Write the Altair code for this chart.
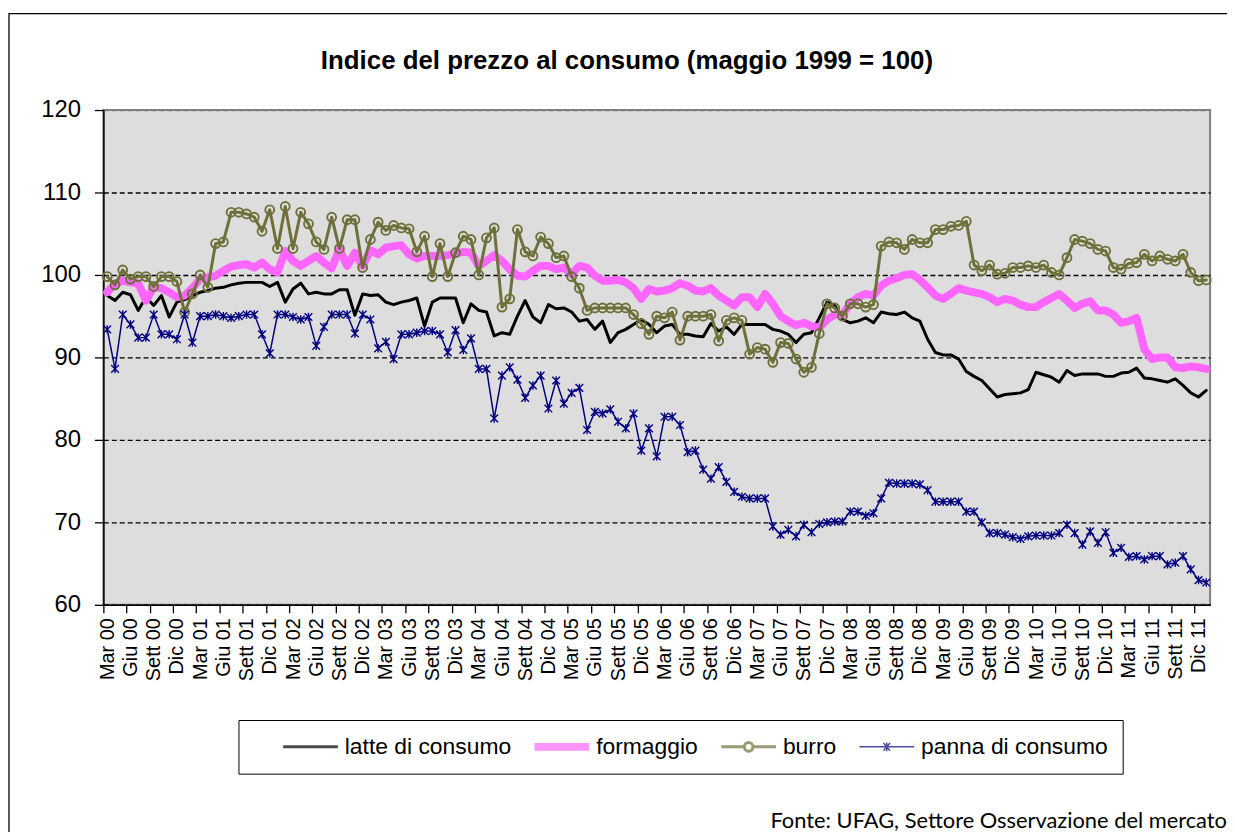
import altair as alt
import pandas as pd

# ---------------- data ----------------
tick_labels = [
    "Mar 00", "Giu 00", "Sett 00", "Dic 00",
    "Mar 01", "Giu 01", "Sett 01", "Dic 01",
    "Mar 02", "Giu 02", "Sett 02", "Dic 02",
    "Mar 03", "Giu 03", "Sett 03", "Dic 03",
    "Mar 04", "Giu 04", "Sett 04", "Dic 04",
    "Mar 05", "Giu 05", "Sett 05", "Dic 05",
    "Mar 06", "Giu 06", "Sett 06", "Dic 06",
    "Mar 07", "Giu 07", "Sett 07", "Dic 07",
    "Mar 08", "Giu 08", "Sett 08", "Dic 08",
    "Mar 09", "Giu 09", "Sett 09", "Dic 09",
    "Mar 10", "Giu 10", "Sett 10", "Dic 10",
    "Mar 11", "Giu 11", "Sett 11", "Dic 11",
]

series_names = ["latte di consumo", "formaggio", "burro", "panna di consumo"]
series_colors = ["#000000", "#FF66FF", "#6F6F3A", "#000080"]
series_widths = [3, 8, 3, 1.5]

latte = [
    97.5, 96.9, 97.9, 97.6, 95.7, 97.3, 96.3, 97.5, 94.9, 96.7, 97.0, 97.5,
    97.9, 98.1, 98.4, 98.5, 98.8, 99.0, 99.1, 99.1, 99.1, 98.6, 99.1, 96.7,
    98.3, 99.0, 97.7, 97.9, 97.7, 97.7, 98.2, 98.2, 95.1, 97.7, 97.5, 97.6,
    96.7, 96.4, 96.7, 96.9, 97.2, 93.8, 96.7, 97.2, 97.2, 97.2, 94.2, 96.5,
    95.7, 95.5, 92.6, 93.0, 92.8, 95.0, 96.9, 94.9, 94.2, 96.4, 95.9, 96.0,
    95.5, 94.4, 94.6, 93.4, 94.4, 91.8, 93.0, 93.4, 94.0, 94.6, 94.0, 93.0,
    93.8, 94.0, 92.8, 92.8, 92.6, 92.5, 94.1, 93.2, 93.7, 92.8, 94.0, 94.0,
    94.0, 94.0, 93.4, 93.2, 92.8, 91.8, 92.8, 93.0, 94.8, 96.7, 96.3, 94.6,
    94.2, 94.4, 94.8, 94.2, 95.5, 95.3, 95.2, 95.5, 94.8, 94.4, 92.2, 90.6,
    90.3, 90.3, 89.8, 88.3, 87.7, 87.2, 86.2, 85.2, 85.5, 85.6, 85.7, 86.1,
    88.2, 87.9, 87.6, 87.0, 88.4, 87.8, 88.0, 88.0, 88.0, 87.7, 87.7, 88.1,
    88.2, 88.7, 87.5, 87.4, 87.2, 87.0, 87.4, 86.6, 85.7, 85.2, 86.0,
]

formaggio = [
    97.9, 98.9, 99.3, 99.1, 99.0, 96.9, 98.5, 98.4, 97.9, 97.3, 97.5, 98.4,
    99.5, 99.7, 99.9, 100.5, 101.0, 101.2, 101.3, 100.9, 101.5, 100.7, 100.3, 102.9,
    101.7, 101.1, 101.7, 102.3, 101.5, 100.8, 103.1, 101.1, 102.7, 101.1, 103.0, 102.5,
    103.3, 103.5, 103.6, 102.5, 102.0, 102.3, 102.3, 102.3, 102.4, 102.6, 102.8, 102.7,
    101.1, 101.7, 102.4, 101.7, 100.7, 99.9, 99.8, 100.5, 101.1, 101.1, 100.7, 100.9,
    100.1, 101.1, 100.9, 99.9, 99.3, 99.3, 99.4, 99.1, 98.4, 97.1, 98.3, 98.0,
    98.1, 98.4, 99.0, 98.7, 98.1, 98.0, 98.4, 97.5, 96.9, 96.3, 97.3, 97.3,
    96.1, 97.7, 96.5, 95.0, 94.4, 93.9, 94.2, 93.8, 93.6, 94.6, 95.2, 95.2,
    96.5, 97.3, 97.7, 97.5, 98.7, 99.3, 99.6, 100.0, 100.1, 99.4, 98.5, 97.5,
    97.1, 97.7, 98.4, 98.1, 97.9, 97.7, 97.3, 96.7, 97.1, 96.9, 96.4, 96.1,
    96.1, 96.7, 97.2, 97.7, 96.9, 96.0, 96.5, 96.8, 95.7, 95.7, 95.2, 94.2,
    94.4, 94.8, 91.0, 89.8, 90.0, 90.0, 88.8, 88.7, 88.9, 88.8, 88.6,
]

burro = [
    99.8, 98.8, 100.6, 99.5, 99.8, 99.8, 98.6, 99.8, 99.8, 99.2, 95.5, 97.7,
    100.0, 98.5, 103.8, 104.0, 107.6, 107.6, 107.4, 107.0, 105.3, 107.9, 103.2, 108.3,
    103.2, 107.6, 106.2, 104.0, 103.1, 107.0, 103.2, 106.7, 106.7, 100.9, 104.3, 106.4,
    105.4, 106.0, 105.7, 105.6, 102.8, 104.7, 99.8, 103.8, 99.8, 102.7, 104.7, 104.3,
    100.0, 104.5, 105.7, 96.1, 97.1, 105.5, 102.8, 102.3, 104.6, 103.8, 102.1, 102.3,
    99.8, 98.4, 95.7, 96.0, 96.0, 96.0, 96.0, 96.0, 95.2, 94.1, 92.8, 95.0,
    94.8, 95.5, 92.1, 95.0, 95.0, 95.0, 95.2, 92.0, 94.5, 94.8, 94.5, 90.4,
    91.2, 91.0, 89.4, 91.8, 91.7, 89.8, 88.2, 88.8, 92.9, 96.5, 96.0, 95.0,
    96.5, 96.5, 96.1, 96.4, 103.5, 104.0, 103.9, 103.1, 104.3, 103.9, 103.9, 105.5,
    105.5, 105.9, 106.0, 106.5, 101.2, 100.5, 101.2, 100.1, 100.2, 100.9, 100.9, 101.1,
    100.9, 101.2, 100.3, 100.0, 102.1, 104.3, 104.1, 103.8, 103.1, 102.9, 100.9, 100.7,
    101.4, 101.5, 102.5, 101.7, 102.3, 101.9, 101.7, 102.5, 100.3, 99.3, 99.4,
]

panna = [
    93.4, 88.6, 95.2, 94.0, 92.4, 92.4, 95.2, 92.8, 92.8, 92.2, 95.2, 91.8,
    95.0, 95.0, 95.2, 95.0, 94.8, 95.0, 95.2, 95.2, 92.8, 90.5, 95.2, 95.2,
    94.9, 94.6, 94.9, 91.4, 93.7, 95.2, 95.2, 95.2, 92.9, 95.2, 94.6, 91.1,
    91.9, 89.8, 92.8, 92.8, 93.0, 93.2, 93.2, 92.8, 90.6, 93.3, 90.9, 92.3,
    88.6, 88.6, 82.6, 87.8, 88.8, 87.3, 85.1, 86.6, 87.8, 83.8, 87.2, 84.4,
    85.7, 86.3, 81.2, 83.4, 83.2, 83.7, 82.2, 81.4, 83.2, 78.7, 81.4, 78.0,
    82.8, 82.8, 81.8, 78.5, 78.7, 76.4, 75.3, 76.7, 74.9, 73.7, 73.1, 72.9,
    72.9, 72.9, 69.5, 68.5, 69.1, 68.3, 69.7, 68.8, 69.8, 70.0, 70.1, 70.1,
    71.3, 71.3, 70.8, 71.1, 72.9, 74.8, 74.7, 74.7, 74.7, 74.6, 73.9, 72.5,
    72.5, 72.5, 72.5, 71.3, 71.3, 70.0, 68.7, 68.7, 68.5, 68.2, 68.0, 68.3,
    68.4, 68.4, 68.4, 68.7, 69.7, 68.7, 67.3, 68.9, 67.5, 68.8, 66.3, 66.9,
    65.8, 65.9, 65.5, 65.9, 65.9, 64.9, 65.1, 65.9, 64.3, 63.0, 62.7,
]

title_text = "Indice del prezzo al consumo (maggio 1999 = 100)"
source_text = "Fonte: UFAG, Settore Osservazione del mercato"

rows = []
for name, vals in zip(series_names, [latte, formaggio, burro, panna]):
    for i, v in enumerate(vals):
        rows.append({"mese": i, "serie": name, "indice": v})
df = pd.DataFrame(rows)
n_months = len(latte)

# ---------------- layout ----------------
W, H = 1114, 498
FONT = "Liberation Sans, Arial, sans-serif"

boundaries = [k * 3 - 0.5 for k in range(len(tick_labels))]
label_array = "[" + ",".join("'" + t + "'" for t in tick_labels) + "]"
label_expr = label_array + "[round((datum.value + 0.5) / 3)]"

x_enc = alt.X(
    "mese:Q",
    scale=alt.Scale(domain=[-0.5, n_months - 0.5], nice=False, zero=False),
    axis=alt.Axis(
        values=boundaries, tickCount=500, labelExpr=label_expr, labelAngle=270,
        labelFontSize=20, labelFont=FONT, labelColor="black",
        labelPadding=5, labelOffset=4, labelOverlap=False, labelBound=False,
        labelFlush=False,
        tickSize=8, tickColor="black", tickWidth=1.3,
        domainColor="black", domainWidth=1.5, grid=False, title=None,
    ),
)
y_enc = alt.Y(
    "indice:Q",
    scale=alt.Scale(domain=[60, 120], nice=False, zero=False),
    axis=alt.Axis(
        values=[60, 70, 80, 90, 100, 110, 120], tickCount=20,
        labelFontSize=24, labelFont=FONT, labelColor="black", labelPadding=14,
        tickSize=9, tickColor="black", tickWidth=1.3,
        domainColor="black", domainWidth=1.5,
        grid=True, gridDash=[5, 3], gridWidth=1.4,
        gridColor={"condition": {"test": "datum.value === 120", "value": "#808080"},
                   "value": "black"},
        title=None,
    ),
)

color_scale = alt.Scale(domain=series_names, range=series_colors)
width_scale = alt.Scale(type="ordinal", domain=series_names, range=series_widths)

legend_shapes = [
    "M-1,0L1,0",
    "M-1,0L1,0",
    "M-1,0L-0.16,0M0.16,0L1,0M-0.16,0A0.16,0.16,0,1,1,0.16,0A0.16,0.16,0,1,1,-0.16,0",
    "M-1,0L1,0M-0.12,-0.14L0.12,0.14M-0.12,0.14L0.12,-0.14M0,-0.16L0,0.16",
]

legend = alt.Legend(
    orient="none", legendX=136, legendY=614, direction="horizontal", columns=4,
    title=" ", titleOrient="left", titlePadding=26, titleFontSize=12,
    labelFont=FONT, labelFontSize=23, labelColor="black", labelOffset=3,
    labelLimit=400,
    symbolSize=3025, clipHeight=24, columnPadding=19,
    symbolFillColor="transparent",
    padding=15, strokeColor="black", fillColor="white",
)

border = alt.Chart(pd.DataFrame({"k": [0]})).mark_rect(
    fill="white", fillOpacity=0, stroke="black", strokeWidth=1.3
).encode(
    x=alt.value(-95), x2=alt.value(1300), y=alt.value(-97), y2=alt.value(800)
)

lines = alt.Chart(df).mark_line(strokeJoin="round", strokeCap="round").encode(
    x=x_enc,
    y=y_enc,
    color=alt.Color("serie:N", scale=color_scale, legend=legend, sort=series_names),
    strokeWidth=alt.StrokeWidth("serie:N", scale=width_scale, legend=legend),
    order=alt.Order("mese:Q"),
)

legend_layer = alt.Chart(df).transform_filter("false").mark_point(filled=False).encode(
    x="mese:Q",
    y="indice:Q",
    color=alt.Color("serie:N", scale=color_scale, legend=legend),
    shape=alt.Shape("serie:N", scale=alt.Scale(domain=series_names, range=legend_shapes),
                    legend=legend),
    strokeWidth=alt.StrokeWidth("serie:N", scale=width_scale, legend=legend),
)

burro_pts = alt.Chart(df).transform_filter(alt.datum.serie == "burro").mark_point(
    shape="circle", size=80, filled=False, stroke="#6F6F3A", strokeWidth=1.9, opacity=1
).encode(x="mese:Q", y="indice:Q")

panna_pts = alt.Chart(df).transform_filter(alt.datum.serie == "panna di consumo").mark_point(
    shape="M-1,-1L1,1M-1,1L1,-1M0,-1.1L0,1.1", size=60, filled=False,
    stroke="#000080", strokeWidth=1.4, opacity=1
).encode(x="mese:Q", y="indice:Q")

title = alt.Chart(pd.DataFrame({"t": [title_text]})).mark_text(
    font=FONT, fontSize=26, fontWeight="bold", color="black",
    align="center", baseline="alphabetic"
).encode(text="t:N", x=alt.value(527), y=alt.value(-41))

source = alt.Chart(pd.DataFrame({"t": [source_text]})).mark_text(
    font="Lato", fontSize=22, color="black", align="right", baseline="alphabetic"
).encode(text="t:N", x=alt.value(1131), y=alt.value(723))

chart = alt.layer(border, lines, legend_layer, burro_pts, panna_pts, title, source).properties(
    width=W, height=H,
    autosize=alt.AutoSizeParams(type="none"),
    padding={"left": 96, "top": 100, "right": 17, "bottom": 226},
    background="white",
).configure_view(
    fill="#DDDDDD", stroke="#808080", strokeWidth=2
)

chart.save("out.html", embed_options={"renderer": "svg", "actions": False})
